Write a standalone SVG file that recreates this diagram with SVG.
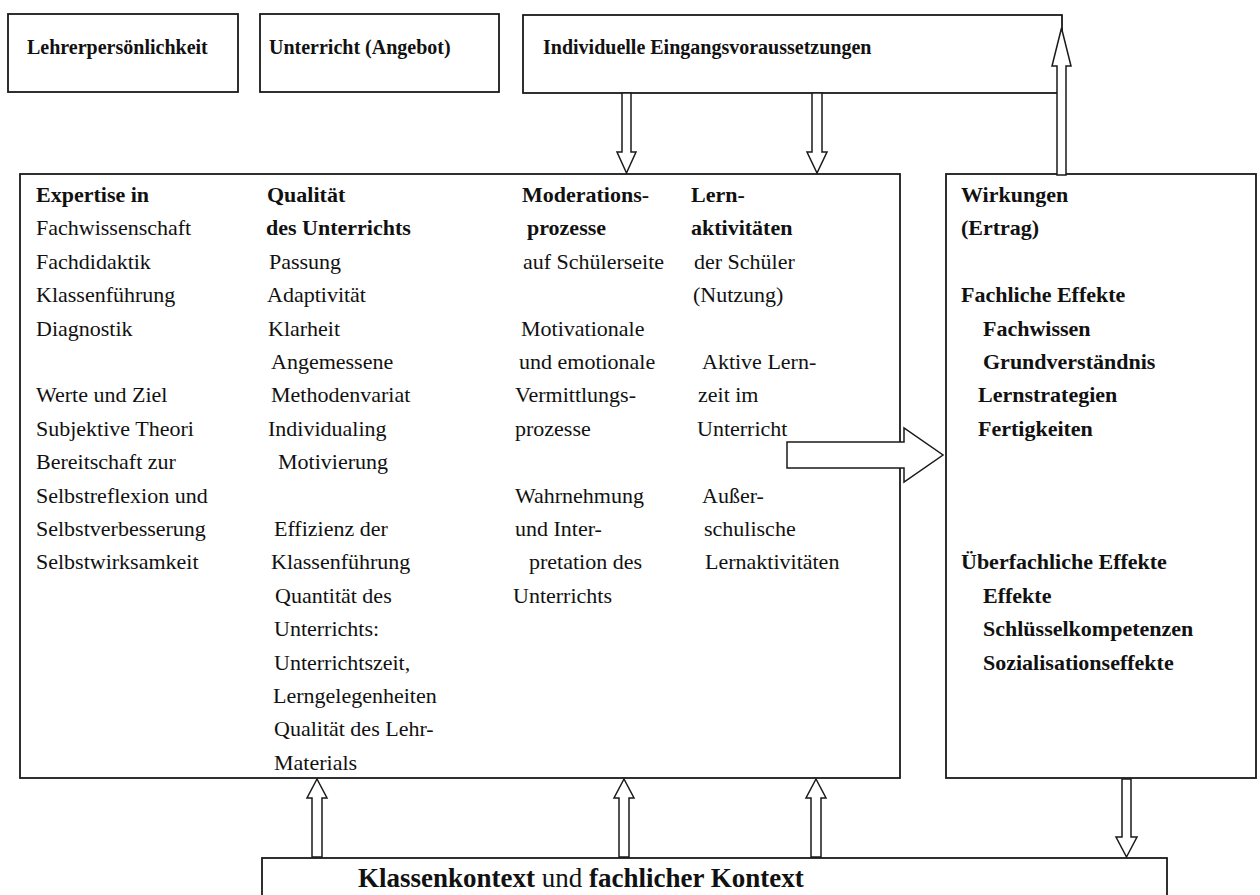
<svg xmlns="http://www.w3.org/2000/svg" width="1260" height="895" viewBox="0 0 1260 895">
<style>
.box{fill:#fff;stroke:#1a1a1a;stroke-width:1.8}
.arr{fill:#fff;stroke:#1a1a1a;stroke-width:1.5;stroke-linejoin:miter}
.t{font-family:"Liberation Serif","Times New Roman",serif;font-size:22px;fill:#111}
.h{font-family:"Liberation Serif","Times New Roman",serif;font-size:20px;font-weight:bold;fill:#111}
.b{font-weight:bold}
.k{font-family:"Liberation Serif","Times New Roman",serif;font-size:27px;fill:#111}
</style>
<rect x="0" y="0" width="1260" height="895" fill="#fff"/>

<g id="node-lehrer">
<rect class="box" x="8" y="14" width="230" height="78"/>
<text class="h" x="27" y="54">Lehrerpersönlichkeit</text>
</g>
<g id="node-unterricht">
<rect class="box" x="260" y="14" width="239" height="78"/>
<text class="h" x="269" y="54">Unterricht (Angebot)</text>
</g>
<g id="node-eingang">
<rect class="box" x="523" y="15" width="539" height="78"/>
<text class="h" x="543" y="54">Individuelle Eingangsvoraussetzungen</text>
</g>

<g id="node-main">
<rect class="box" x="20" y="174" width="880" height="604"/>
<g id="col-expertise" class="t">
<text x="36" y="202" class="b">Expertise in</text>
<text x="36" y="235.4">Fachwissenschaft</text>
<text x="36" y="268.8">Fachdidaktik</text>
<text x="36" y="302.2">Klassenführung</text>
<text x="36" y="335.6">Diagnostik</text>
<text x="36" y="402.4">Werte und Ziel</text>
<text x="36" y="435.8">Subjektive Theori</text>
<text x="36" y="469.2">Bereitschaft zur</text>
<text x="36" y="502.6">Selbstreflexion und</text>
<text x="36" y="536">Selbstverbesserung</text>
<text x="36" y="569.4">Selbstwirksamkeit</text>
</g>
<g id="col-qualitaet" class="t">
<text x="267" y="202" class="b">Qualität</text>
<text x="266" y="235.4" class="b">des Unterrichts</text>
<text x="269" y="268.8">Passung</text>
<text x="267" y="302.2">Adaptivität</text>
<text x="268" y="335.6">Klarheit</text>
<text x="271" y="369">Angemessene</text>
<text x="271" y="402.4">Methodenvariat</text>
<text x="268" y="435.8">Individualing</text>
<text x="278" y="469.2">Motivierung</text>
<text x="274" y="536">Effizienz der</text>
<text x="271" y="569.4">Klassenführung</text>
<text x="275" y="602.8">Quantität des</text>
<text x="274" y="636.2">Unterrichts:</text>
<text x="274" y="669.6">Unterrichtszeit,</text>
<text x="273" y="703">Lerngelegenheiten</text>
<text x="274" y="736.4">Qualität des Lehr-</text>
<text x="274" y="769.8">Materials</text>
</g>
<g id="col-moderation" class="t">
<text x="522" y="202" class="b">Moderations-</text>
<text x="527" y="235.4" class="b">prozesse</text>
<text x="523" y="268.8">auf Schülerseite</text>
<text x="521" y="335.6">Motivationale</text>
<text x="519" y="369">und emotionale</text>
<text x="515" y="402.4">Vermittlungs-</text>
<text x="515" y="435.8">prozesse</text>
<text x="515" y="502.6">Wahrnehmung</text>
<text x="515" y="536">und Inter-</text>
<text x="529" y="569.4">pretation des</text>
<text x="513" y="602.8">Unterrichts</text>
</g>
<g id="col-lern" class="t">
<text x="691" y="202" class="b">Lern-</text>
<text x="691" y="235.4" class="b">aktivitäten</text>
<text x="694" y="268.8">der Schüler</text>
<text x="693" y="302.2">(Nutzung)</text>
<text x="702" y="369">Aktive Lern-</text>
<text x="698" y="402.4">zeit im</text>
<text x="697" y="435.8">Unterricht</text>
<text x="702" y="502.6">Außer-</text>
<text x="704" y="536">schulische</text>
<text x="705" y="569.4">Lernaktivitäten</text>
</g>
</g>

<g id="node-wirkungen">
<rect class="box" x="946" y="174" width="310" height="604"/>
<g class="t b">
<text x="961" y="202">Wirkungen</text>
<text x="961" y="235.4">(Ertrag)</text>
<text x="961" y="302.2">Fachliche Effekte</text>
<text x="983" y="335.6">Fachwissen</text>
<text x="983" y="369">Grundverständnis</text>
<text x="978" y="402.4">Lernstrategien</text>
<text x="978" y="435.8">Fertigkeiten</text>
<text x="961" y="569.4">Überfachliche Effekte</text>
<text x="983" y="602.8">Effekte</text>
<text x="983" y="636.2">Schlüsselkompetenzen</text>
<text x="983" y="669.6">Sozialisationseffekte</text>
</g>
</g>

<g id="node-kontext">
<rect class="box" x="262" y="858" width="905" height="60"/>
<text class="k" x="358" y="887"><tspan class="b">Klassenkontext</tspan> und <tspan class="b">fachlicher Kontext</tspan></text>
</g>

<g id="connectors">
<polygon class="arr" points="622,93 631,93 631,152 636,152 626.5,173 617,152 622,152"/>
<polygon class="arr" points="812,93 822,93 822,152 827,152 817,173 807,152 812,152"/>
<polygon class="arr" points="1057,175 1066,175 1066,66 1071,66 1061.5,28 1052,66 1057,66"/>
<polygon class="arr" points="787,442 904,442 904,428 943,455 904,482 904,468 787,468"/>
<polygon class="arr" points="312,857 322,857 322,798 327,798 317,779 307,798 312,798"/>
<polygon class="arr" points="619,857 629,857 629,798 634,798 624,779 614,798 619,798"/>
<polygon class="arr" points="811,857 821,857 821,798 826,798 816,779 806,798 811,798"/>
<polygon class="arr" points="1122,779 1131,779 1131,837 1137,837 1126.5,857 1116,837 1122,837"/>
</g>
</svg>
